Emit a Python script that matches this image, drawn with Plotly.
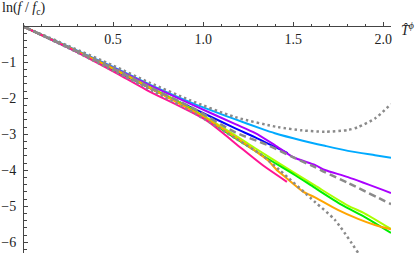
import plotly.graph_objects as go

# ---- data ----
x_upper = [0, 0.25, 0.5, 0.704, 0.926, 1.176, 1.415, 1.548, 1.676, 1.804, 1.860, 1.954, 2.043]
y_upper = [0, -0.54, -1.09, -1.57, -2.05, -2.52, -2.80, -2.89, -2.93, -2.88, -2.80, -2.56, -2.16]

x_cyan = [0, 0.25, 0.5, 0.704, 0.954, 1.176, 1.326, 1.398, 1.548, 1.676, 1.804, 1.954, 2.043]
y_cyan = [0, -0.56, -1.13, -1.62, -2.16, -2.58, -2.85, -2.97, -3.17, -3.32, -3.46, -3.58, -3.65]

x_purple = [0, 0.25, 0.5, 0.704, 0.954, 1.176, 1.287, 1.398, 1.498, 1.620, 1.676, 1.804, 2.043]
y_purple = [0, -0.57, -1.15, -1.64, -2.21, -2.71, -2.96, -3.30, -3.63, -3.85, -3.99, -4.19, -4.63]

x_blue = [0, 0.25, 0.5, 0.704, 0.954, 1.176, 1.287, 1.398, 1.470]
y_blue = [0, -0.59, -1.20, -1.72, -2.30, -2.83, -3.08, -3.35, -3.52]

x_dashed = [0, 0.25, 0.5, 0.704, 0.954, 1.176, 1.359, 1.509, 1.621, 1.676, 1.804, 2.043]
y_dashed = [0, -0.58, -1.18, -1.69, -2.30, -2.94, -3.30, -3.66, -3.91, -4.05, -4.35, -4.94]

x_chartreuse = [0, 0.25, 0.5, 0.704, 0.954, 1.176, 1.287, 1.500, 1.620, 1.804, 1.898, 2.043]
y_chartreuse = [0, -0.58, -1.17, -1.69, -2.34, -3.02, -3.38, -4.05, -4.42, -4.98, -5.20, -5.63]

x_green = [0, 0.25, 0.5, 0.704, 0.954, 1.176, 1.343, 1.509, 1.621, 1.770, 1.898, 2.043]
y_green = [0, -0.58, -1.18, -1.71, -2.37, -3.10, -3.63, -4.13, -4.49, -4.96, -5.30, -5.74]

x_orange = [0, 0.25, 0.5, 0.704, 0.954, 1.176, 1.300, 1.359, 1.415, 1.454, 1.557, 1.621, 1.748, 1.860, 1.954, 2.043]
y_orange = [0, -0.58, -1.18, -1.71, -2.38, -3.07, -3.50, -3.72, -4.02, -4.18, -4.60, -4.75, -5.10, -5.35, -5.52, -5.64]

x_lower = [0, 0.25, 0.5, 0.720, 0.954, 1.176, 1.326, 1.426, 1.621, 1.732, 1.860]
y_lower = [0, -0.60, -1.23, -1.80, -2.42, -3.10, -3.58, -4.00, -4.88, -5.38, -6.29]

x_pink = [0, 0.25, 0.5, 0.687, 1.020, 1.176, 1.326, 1.465]
y_pink = [0, -0.59, -1.25, -1.77, -2.62, -3.24, -3.84, -4.32]

x_tickvals = [0.5, 1.0, 1.5, 2.0]
x_ticktext = ["0.5", "1.0", "1.5", "2.0"]
y_tickvals = [-1, -2, -3, -4, -5, -6]
y_ticktext = ["\u22121", "\u22122", "\u22123", "\u22124", "\u22125", "\u22126"]

# ---- figure ----
FONT = "Liberation Serif"
AX = "#444444"
GRAY = "#8a8a8a"

fig = go.Figure()

colored = [
    (x_blue, y_blue, "#0000ff"),
    (x_cyan, y_cyan, "#00aaff"),
    (x_purple, y_purple, "#aa00ff"),
    (x_chartreuse, y_chartreuse, "#aaff00"),
    (x_green, y_green, "#00ee00"),
    (x_orange, y_orange, "#ffa500"),
    (x_pink, y_pink, "#ff1493"),
]
for xs, ys, c in colored:
    fig.add_trace(go.Scatter(x=xs, y=ys, mode="lines",
                             line=dict(color=c, width=2, shape="spline", smoothing=0.7),
                             hoverinfo="skip", showlegend=False))

fig.add_trace(go.Scatter(x=x_dashed, y=y_dashed, mode="lines",
                         line=dict(color=GRAY, width=2.5, dash="7px,4px", shape="spline", smoothing=0.7),
                         showlegend=False))
for xs, ys in [(x_upper, y_upper), (x_lower, y_lower)]:
    fig.add_trace(go.Scatter(x=xs, y=ys, mode="lines",
                             line=dict(color=GRAY, width=2.5, dash="2.5px,3px", shape="spline", smoothing=0.7),
                             showlegend=False))

xr = [0, 2.043]
yr = [-6.297, 0.0917]
x_pos = (0 - yr[0]) / (yr[1] - yr[0])

x_minor = [round(i * 0.1, 2) for i in range(1, 21) if i % 5 != 0]
y_minor = [round(-i * 0.2, 2) for i in range(1, 32) if i % 5 != 0]

fig.update_layout(
    width=415, height=255,
    margin=dict(l=23, r=24, t=23, b=2),
    paper_bgcolor="white", plot_bgcolor="white",
    font=dict(family=FONT, size=14, color="#222222"),
    xaxis=dict(range=xr, showgrid=False, zeroline=False, showline=True,
               linecolor=AX, linewidth=1, anchor="free", position=x_pos, side="bottom",
               ticks="inside", ticklen=4, tickwidth=1, tickcolor=AX,
               tickmode="array", tickvals=x_tickvals, ticktext=x_ticktext,
               minor=dict(ticks="inside", ticklen=2.5, tickwidth=1, tickcolor=AX,
                          tickmode="array", tickvals=x_minor, showgrid=False),
               tickfont=dict(family=FONT, size=14, color="#222222"),
               ticklabelstandoff=0, automargin=False, fixedrange=True),
    yaxis=dict(range=yr, showgrid=False, zeroline=False, showline=True,
               linecolor=AX, linewidth=1, anchor="free", position=0, side="left",
               ticks="inside", ticklen=4, tickwidth=1, tickcolor=AX,
               tickmode="array", tickvals=y_tickvals, ticktext=y_ticktext,
               minor=dict(ticks="inside", ticklen=2.5, tickwidth=1, tickcolor=AX,
                          tickmode="array", tickvals=y_minor, showgrid=False),
               tickfont=dict(family=FONT, size=14, color="#222222"),
               ticklabelstandoff=4, automargin=False, fixedrange=True),
    annotations=[
        dict(text="ln(<i>f</i> / <i>f</i><sub>c</sub>)", xref="paper", yref="paper",
             x=(0 - 23) / 368, y=(253 - 9) / 230, xanchor="left", yanchor="middle",
             showarrow=False, font=dict(family=FONT, size=14, color="#222222")),
        dict(text="<i>T\u0302</i><sup><i>\u03d5</i></sup>", xref="paper", yref="paper",
             x=(399 - 23) / 368, y=(253 - 29) / 230, xanchor="left", yanchor="middle",
             showarrow=False, font=dict(family=FONT, size=14, color="#222222")),
    ],
)

fig.write_html("out.html", config={"displayModeBar": False},
               post_script="document.body.style.margin='0';document.body.style.overflow='hidden';")
